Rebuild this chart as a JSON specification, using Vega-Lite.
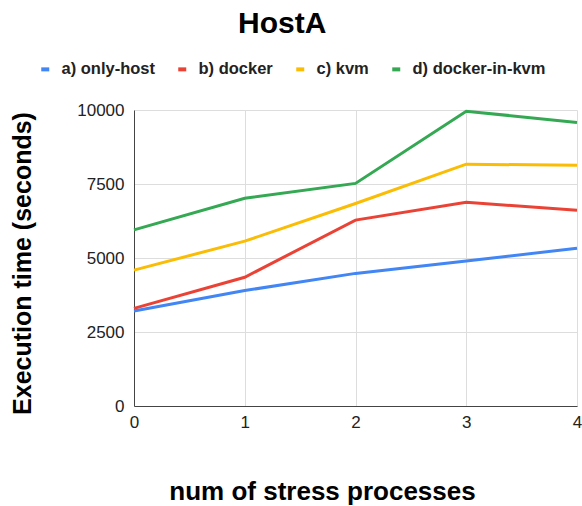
{
  "$schema": "https://vega.github.io/schema/vega-lite/v6.json",
  "width": 443,
  "height": 296,
  "autosize": {"type": "none"},
  "padding": {"left": 134, "top": 110, "right": 5, "bottom": 100},
  "background": "white",
  "config": {
    "font": "Liberation Sans",
    "view": {"stroke": null}
  },
  "title": {
    "text": "HostA",
    "fontSize": 30,
    "fontWeight": "bold",
    "color": "#000000",
    "anchor": "start",
    "frame": "group",
    "dx": 104,
    "offset": -2,
    "baseline": "alphabetic"
  },
  "data": {
    "values": [
      {"n": 0, "series": "a) only-host", "t": 3210},
      {"n": 1, "series": "a) only-host", "t": 3900},
      {"n": 2, "series": "a) only-host", "t": 4480},
      {"n": 3, "series": "a) only-host", "t": 4900},
      {"n": 4, "series": "a) only-host", "t": 5330},
      {"n": 0, "series": "b) docker", "t": 3300},
      {"n": 1, "series": "b) docker", "t": 4350},
      {"n": 2, "series": "b) docker", "t": 6280},
      {"n": 3, "series": "b) docker", "t": 6880},
      {"n": 4, "series": "b) docker", "t": 6610},
      {"n": 0, "series": "c) kvm", "t": 4590},
      {"n": 1, "series": "c) kvm", "t": 5570},
      {"n": 2, "series": "c) kvm", "t": 6840},
      {"n": 3, "series": "c) kvm", "t": 8170},
      {"n": 4, "series": "c) kvm", "t": 8130},
      {"n": 0, "series": "d) docker-in-kvm", "t": 5950},
      {"n": 1, "series": "d) docker-in-kvm", "t": 7020},
      {"n": 2, "series": "d) docker-in-kvm", "t": 7520},
      {"n": 3, "series": "d) docker-in-kvm", "t": 9960},
      {"n": 4, "series": "d) docker-in-kvm", "t": 9580}
    ]
  },
  "mark": {"type": "line", "strokeWidth": 3, "clip": false},
  "encoding": {
    "x": {
      "field": "n",
      "type": "quantitative",
      "scale": {"domain": [0, 4], "nice": false, "zero": false},
      "axis": {
        "values": [0, 1, 2, 3, 4],
        "format": "d",
        "title": "num of stress processes",
        "titleFontSize": 26,
        "titleFontWeight": "bold",
        "titleColor": "#000000",
        "titleAnchor": "start",
        "titleAlign": "center",
        "titleX": 188,
        "titleY": 93,
        "titleBaseline": "alphabetic",
        "labelFontSize": 17,
        "labelColor": "#222222",
        "labelPadding": 8,
        "labelFlush": false,
        "labelOverlap": false,
        "ticks": false,
        "grid": true,
        "gridColor": "#dddddd",
        "domainColor": "#444444"
      }
    },
    "y": {
      "field": "t",
      "type": "quantitative",
      "scale": {"domain": [0, 10000], "nice": false},
      "axis": {
        "values": [0, 2500, 5000, 7500, 10000],
        "format": "d",
        "title": "Execution time (seconds)",
        "titleFontSize": 25,
        "titleFontWeight": "bold",
        "titleColor": "#000000",
        "titleAngle": -90,
        "titleAnchor": "start",
        "titleAlign": "center",
        "titleX": -104,
        "titleY": 153,
        "titleBaseline": "alphabetic",
        "labelFontSize": 17,
        "labelColor": "#222222",
        "labelPadding": 10,
        "labelOverlap": false,
        "ticks": false,
        "grid": true,
        "gridColor": "#dddddd",
        "domainColor": "#444444"
      }
    },
    "color": {
      "field": "series",
      "type": "nominal",
      "scale": {
        "domain": ["a) only-host", "b) docker", "c) kvm", "d) docker-in-kvm"],
        "range": ["#4285F4", "#EA4335", "#FBBC04", "#34A853"]
      },
      "legend": {
        "title": null,
        "orient": "none",
        "direction": "horizontal",
        "legendX": -97,
        "legendY": -49,
        "symbolType": "stroke",
        "symbolSize": 64,
        "symbolStrokeWidth": 4,
        "labelFontSize": 16.5,
        "labelFontWeight": "bold",
        "labelColor": "#222222",
        "labelOffset": 8,
        "columnPadding": 15,
        "labelLimit": 300
      }
    }
  }
}
